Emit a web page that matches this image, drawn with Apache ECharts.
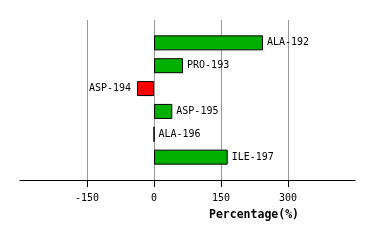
<!DOCTYPE html>
<html><head><meta charset="utf-8">
<script src="https://cdn.jsdelivr.net/npm/echarts@6/dist/echarts.min.js"></script>
<style>html,body{margin:0;padding:0;background:#fff}#c{width:374px;height:240px}</style>
</head><body><div id="c"></div>
<script>
var categories = ['', 'ALA-192', 'PRO-193', 'ASP-194', 'ASP-195', 'ALA-196', 'ILE-197', ''];
var values = [null, 244, 65, -38, 41, 0, 165, null];
var xTicks = { min: -300, max: 450, interval: 150 };
var tickValues = [-150, 0, 150, 300];
var axisTitle = 'Percentage(%)';

var chart = echarts.init(document.getElementById('c'), null, {renderer: 'canvas'});
var data = values.map(function (v, i) {
  if (v === null) return null;
  return {
    value: v,
    itemStyle: { color: v < 0 ? '#ff0000' : '#00b000' },
    label: { position: v < 0 ? 'left' : 'right', distance: v < 0 ? 6 : 4 }
  };
});
chart.setOption({
  animation: false,
  backgroundColor: '#fff',
  grid: { left: 20, right: 19, top: 20, bottom: 60, containLabel: false },
  xAxis: {
    type: 'value', min: xTicks.min, max: xTicks.max, interval: xTicks.interval,
    axisLine: { show: true, onZero: false, lineStyle: { color: '#000', width: 1 } },
    axisTick: { show: true, length: 7, lineStyle: { color: '#000' }, customValues: tickValues },
    axisLabel: { color: '#000', fontFamily: 'DejaVu Sans Mono', fontSize: 10, margin: 13,
      customValues: tickValues },
    splitLine: { show: true, showMinLine: true, showMaxLine: true, lineStyle: { color: '#999', width: 1 } }
  },
  yAxis: {
    type: 'category', data: categories, inverse: true, boundaryGap: false,
    axisLine: { show: false }, axisTick: { show: false }, axisLabel: { show: false }, splitLine: { show: false }
  },
  graphic: [{
    type: 'text', x: 254, y: 215,
    style: { text: axisTitle, fill: '#000', font: 'bold 11.5px "DejaVu Sans Mono"', align: 'center', verticalAlign: 'middle' }
  }],
  series: [{
    type: 'bar', data: data, barWidth: 15,
    itemStyle: { borderColor: '#000', borderWidth: 1 },
    label: {
      show: true, color: '#000', fontFamily: 'DejaVu Sans Mono', fontSize: 10,
      formatter: function (p) { return categories[p.dataIndex]; }
    }
  }]
});
</script></body></html>
